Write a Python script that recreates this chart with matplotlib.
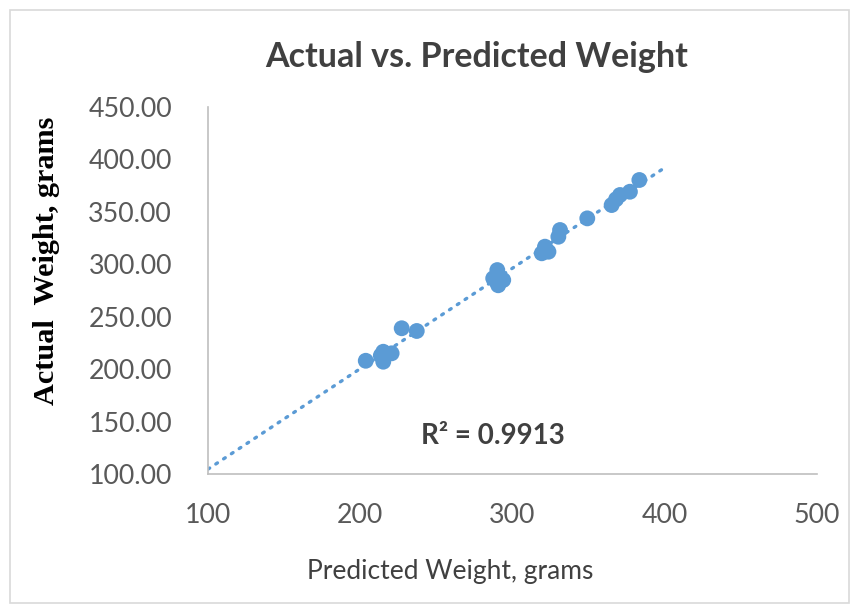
import numpy as np
import matplotlib
matplotlib.use("Agg")
import matplotlib.pyplot as plt
from matplotlib.patches import Rectangle

# Predicted vs. actual weights (grams)
predicted = [203.6, 215.1, 220.6, 215.1, 213.5, 227.2, 237.1,
             287.3, 289.6, 290.0, 293.9, 290.6,
             319.2, 321.3, 323.6, 330.1, 331.2, 349.1,
             365.1, 370.6, 377.1, 383.3, 368.0]
actual = [208.0, 216.6, 215.1, 207.1, 213.0, 239.0, 236.4,
          286.6, 283.4, 294.5, 285.0, 280.0,
          310.5, 316.8, 312.0, 326.3, 332.7, 343.8,
          356.5, 366.1, 369.2, 380.4, 362.0]
r_squared = 0.9913

x_ticks = [100, 200, 300, 400, 500]
y_ticks = [100, 150, 200, 250, 300, 350, 400, 450]

blue = "#5B9BD5"
text_col = "#404040"
tick_col = "#595959"

plt.rcParams["font.family"] = ["Lato", "DejaVu Sans"]

fig = plt.figure(figsize=(8.55, 6.07), dpi=100)
ax = fig.add_axes([0.2433, 0.2191, 0.7123, 0.6046])

ax.scatter(predicted, actual, s=130, color=blue, edgecolors="none", zorder=3)

# Linear trendline, extended over the forecast range
slope, intercept = np.polyfit(predicted, actual, 1)
tx = np.array([100, 400])
ax.plot(tx, slope * tx + intercept, color=blue, lw=2.4,
        linestyle=(0, (0.6, 2.2)), dash_capstyle="round", zorder=2)

ax.set_xlim(100, 500)
ax.set_ylim(100, 450)
ax.set_xticks(x_ticks)
ax.set_yticks(y_ticks)
ax.set_xticklabels([str(v) for v in x_ticks])
ax.set_yticklabels([f"{v:.2f}" for v in y_ticks])
ax.tick_params(length=0, labelsize=19.3, labelcolor=tick_col)
ax.tick_params(axis="x", pad=21)
ax.tick_params(axis="y", pad=26)

for side in ("top", "right"):
    ax.spines[side].set_visible(False)
for side in ("left", "bottom"):
    ax.spines[side].set_color("#BFBFBF")
    ax.spines[side].set_linewidth(1.2)

fig.text(0.5573, 0.906, "Actual vs. Predicted Weight", ha="center", va="center",
         fontsize=24.5, fontweight="bold", color=text_col)
fig.text(0.527, 0.059, "Predicted Weight, grams", ha="center", va="center",
         fontsize=19, color=text_col)
fig.text(0.054, 0.570, "Actual  Weight, grams", ha="center", va="center",
         rotation=90, fontsize=21.8, fontweight="bold", color="black",
         family=["Liberation Serif", "DejaVu Serif"])

ax.text(0.577, 0.282, "R² = 0.9913", transform=fig.transFigure, ha="center",
        va="center", fontsize=20, fontweight="bold", color=text_col)

# Chart-area border
fig.patches.append(Rectangle((0.0117, 0.0066), 0.981, 0.977, transform=fig.transFigure,
                             fill=False, edgecolor="#D9D9D9", lw=1.2))

fig.savefig("out.png", dpi=100)
